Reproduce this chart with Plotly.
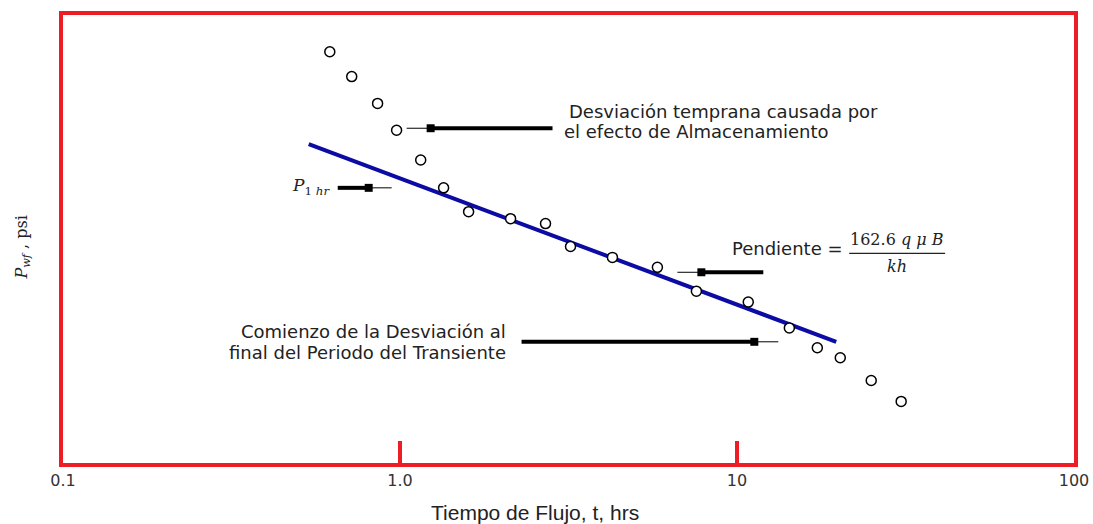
import plotly.graph_objects as go

# flow time (hrs) and flowing pressure (psi)
t_hrs = [0.619, 0.719, 0.858, 0.977, 1.152, 1.347, 1.598, 2.129, 2.703, 3.206,
         4.270, 5.805, 7.577, 10.80, 14.30, 17.31, 20.25, 25.02, 30.70]
p_wf = [1463, 1438, 1411, 1384, 1354, 1326, 1302, 1295, 1290, 1267,
        1256, 1246, 1222, 1211, 1185, 1165, 1155, 1132, 1111]

# straight line fitted through the transient period
line_t = [0.536, 19.70]
line_p = [1370, 1171]

tick_vals = [0.1, 1, 10, 100]
tick_text = ["0.1", "1.0", "10", "100"]

RED = "#ee1c25"
TXT = "#222222"
# plot area in the picture, pixels
X0, X1, Y0, Y1 = 63, 1075, 12, 463


def px(x):
    return (x - X0) / (X1 - X0)


def py(y):
    return (Y1 - y) / (Y1 - Y0)


fig = go.Figure()
fig.add_trace(go.Scatter(x=line_t, y=line_p, mode="lines",
                         line=dict(color="#0c0ca4", width=4), hoverinfo="skip"))
fig.add_trace(go.Scatter(x=t_hrs, y=p_wf, mode="markers",
                         marker=dict(size=10, color="white", line=dict(color="black", width=1.5))))

shapes = []


def arrow(x_thick0, x_thick1, x_thin0, x_thin1, x_rect, y):
    # thick shaft, small square, thin tip line
    shapes.append(dict(type="line", xref="paper", yref="paper", x0=px(x_thick0), x1=px(x_thick1),
                       y0=py(y), y1=py(y), line=dict(color="black", width=4)))
    shapes.append(dict(type="line", xref="paper", yref="paper", x0=px(x_thin0), x1=px(x_thin1),
                       y0=py(y), y1=py(y), line=dict(color="black", width=1)))
    shapes.append(dict(type="rect", xref="paper", yref="paper", x0=px(x_rect - 4), x1=px(x_rect + 4),
                       y0=py(y - 4), y1=py(y + 4), line=dict(width=0), fillcolor="black"))


arrow(432, 553, 407, 430, 431, 126)
arrow(338, 367, 367, 392, 369, 186)
arrow(704, 764, 678, 702, 702, 271)
arrow(522, 752, 752, 779, 755, 341)

# fraction bar
shapes.append(dict(type="line", xref="paper", yref="paper", x0=px(850), x1=px(946),
                   y0=py(252), y1=py(252), line=dict(color=TXT, width=1.2)))

sans = "DejaVu Sans"
serif = "DejaVu Serif"
fs = 18


def txt(x, y, s, anchor="left", family=sans, size=fs, **kw):
    d = dict(x=px(x), y=py(y), text=s, xanchor=anchor, yanchor="middle",
             xref="paper", yref="paper", showarrow=False,
             font=dict(family=family, size=size, color=TXT))
    d.update(kw)
    return d


ann = [
    txt(567, 109, "Desviación temprana causada por"),
    txt(562, 129, "el efecto de Almacenamiento"),
    txt(332, 185, "<i>P</i><sub>1 <i>hr</i></sub>", anchor="right", family=serif, size=17),
    txt(846, 247, "Pendiente =", anchor="right"),
    txt(898, 238, "162.6 <i>q μ B</i>", anchor="center", family=serif, size=16),
    txt(898, 265, "<i>kh</i>", anchor="center", family=serif, size=16),
    txt(508, 331, "Comienzo de la Desviación al", anchor="right"),
    txt(508, 352, "final del Periodo del Transiente", anchor="right"),
    txt(535, 513, "Tiempo de Flujo, t, hrs", anchor="center", family="Liberation Sans", size=21),
    txt(22, 246, "<i>P</i><sub><i>wf</i></sub> , psi", anchor="center", family=serif, size=16,
        textangle=-90),
]

fig.update_layout(
    width=1100, height=524, margin=dict(l=63, r=18, t=11, b=61),
    paper_bgcolor="white", plot_bgcolor="white", showlegend=False,
    shapes=shapes, annotations=ann,
    xaxis=dict(type="log", range=[-1, 2], tickvals=tick_vals, ticktext=tick_text,
               ticks="inside", ticklen=22, tickwidth=4, tickcolor=RED,
               showline=True, linecolor=RED, linewidth=4, mirror=True,
               showgrid=False, zeroline=False,
               tickfont=dict(family=sans, size=16, color="#333333")),
    yaxis=dict(range=[1049, 1500], showticklabels=False, ticks="",
               showline=True, linecolor=RED, linewidth=4, mirror=True,
               showgrid=False, zeroline=False),
)

fig.write_html("out.html", config={"displayModeBar": False},
               post_script="document.body.style.margin='0';document.body.style.overflow='hidden';"
                           "document.documentElement.style.overflow='hidden';")
